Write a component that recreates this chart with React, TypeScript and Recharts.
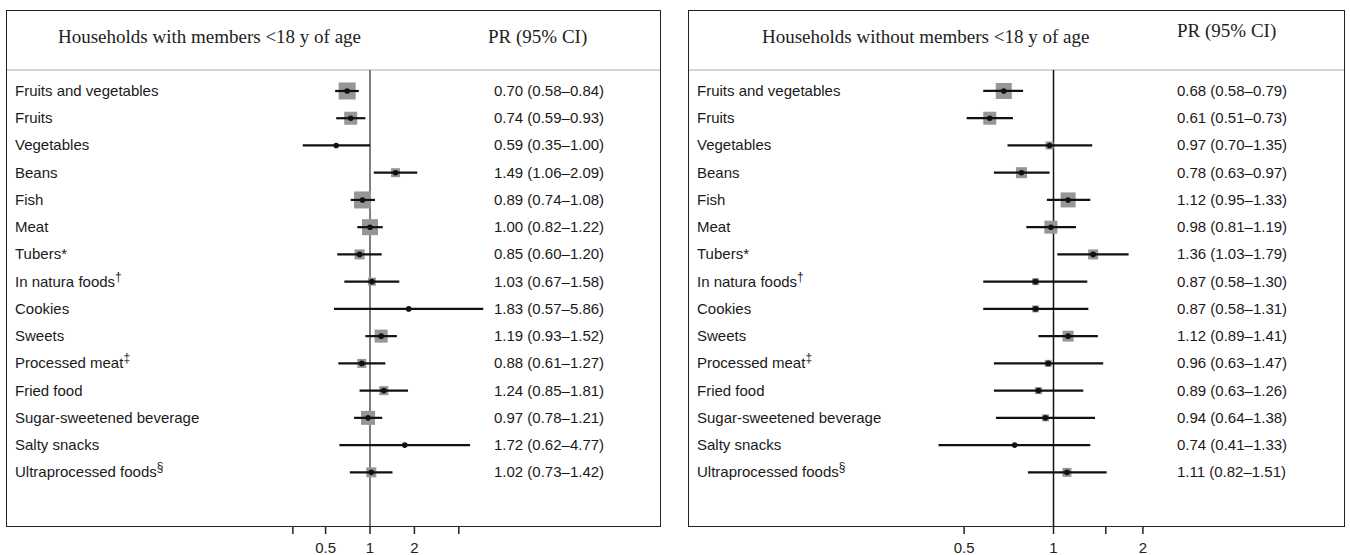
import React from "react";
import { ComposedChart, Scatter, XAxis, YAxis, ErrorBar, ReferenceLine } from "recharts";

const foods = [
  "Fruits and vegetables",
  "Fruits",
  "Vegetables",
  "Beans",
  "Fish",
  "Meat",
  "Tubers*",
  "In natura foods†",
  "Cookies",
  "Sweets",
  "Processed meat‡",
  "Fried food",
  "Sugar-sweetened beverage",
  "Salty snacks",
  "Ultraprocessed foods§",
];

// households with members <18 y
const prWith = [0.7, 0.74, 0.59, 1.49, 0.89, 1.0, 0.85, 1.03, 1.83, 1.19, 0.88, 1.24, 0.97, 1.72, 1.02];
const lowWith = [0.58, 0.59, 0.35, 1.06, 0.74, 0.82, 0.6, 0.67, 0.57, 0.93, 0.61, 0.85, 0.78, 0.62, 0.73];
const highWith = [0.84, 0.93, 1.0, 2.09, 1.08, 1.22, 1.2, 1.58, 5.86, 1.52, 1.27, 1.81, 1.21, 4.77, 1.42];
const weightWith = [17, 13, 3, 9, 17, 16, 10, 8, 3, 13, 9, 9, 14, 3, 10];

// households without members <18 y
const prWithout = [0.68, 0.61, 0.97, 0.78, 1.12, 0.98, 1.36, 0.87, 0.87, 1.12, 0.96, 0.89, 0.94, 0.74, 1.11];
const lowWithout = [0.58, 0.51, 0.7, 0.63, 0.95, 0.81, 1.03, 0.58, 0.58, 0.89, 0.63, 0.63, 0.64, 0.41, 0.82];
const highWithout = [0.79, 0.73, 1.35, 0.97, 1.33, 1.19, 1.79, 1.3, 1.31, 1.41, 1.47, 1.26, 1.38, 1.33, 1.51];
const weightWithout = [16, 13, 8, 11, 15, 13, 10, 7, 7, 11, 7, 7, 7, 3, 9];

const ticksWith = [0.3, 0.5, 1, 2, 4];
const ticksWithout = [0.5, 1, 1.5, 2];
const tickLabels = [0.5, 1, 2];

const SANS = "'Liberation Sans', Arial, sans-serif";
const SERIF = "'Liberation Serif', 'Times New Roman', serif";
const rowIdx = foods.map((_, i) => i);

const fmt = (v: number) => v.toFixed(2);

const FoodLabel = (props: any) => {
  const { y, payload, labelX } = props;
  const text: string = foods[payload.value] ?? "";
  const last = text.slice(-1);
  const sup = "†‡§".includes(last);
  return (
    <text x={labelX} y={y} dy={5} fontSize={15} fontFamily={SANS} fill="#1a1a1a" textAnchor="start">
      {sup ? (
        <>
          <tspan>{text.slice(0, -1)}</tspan>
          <tspan dy={-6} fontSize={12}>{last}</tspan>
        </>
      ) : (
        text
      )}
    </text>
  );
};

const PrLabel = (props: any) => {
  const { y, payload, prX, pr, low, high } = props;
  const i = payload.value;
  return (
    <text x={prX} y={y} dy={5} fontSize={15} fontFamily={SANS} fill="#1a1a1a" textAnchor="start">
      {`${fmt(pr[i])} (${fmt(low[i])}–${fmt(high[i])})`}
    </text>
  );
};

type PanelProps = {
  title: string;
  pr: number[];
  low: number[];
  high: number[];
  weight: number[];
  pageLeft: number;
  box: { left: number; right: number };
  domain: [number, number];
  ticks: number[];
  yLeft: number;
  yRight: number;
  labelX: number;
  prX: number;
  titleX: number;
  prTitleX: number;
  prTitleY: number;
  refColor: string;
};

const Panel = (p: PanelProps) => {
  const rows = rowIdx.map((i) => ({
    i,
    pr: p.pr[i],
    err: [p.pr[i] - p.low[i], p.high[i] - p.pr[i]],
    w: p.weight[i],
  }));
  const W = 670;
  return (
    <div style={{ position: "absolute", left: p.pageLeft, top: 0, width: W, height: 555 }}>
      <div
        style={{
          position: "absolute",
          left: p.box.left,
          top: 10,
          width: p.box.right - p.box.left + 1,
          height: 517,
          border: "1px solid #222",
          boxSizing: "border-box",
        }}
      />
      <div
        style={{
          position: "absolute",
          left: p.box.left + 1,
          top: 69,
          width: p.box.right - p.box.left - 1,
          borderTop: "2px solid #d6d6d6",
        }}
      />
      <div style={{ position: "absolute", left: p.titleX, top: 27, fontFamily: SERIF, fontSize: 19, lineHeight: "20px", color: "#222", whiteSpace: "nowrap" }}>
        {p.title}
      </div>
      <div style={{ position: "absolute", left: p.prTitleX, top: p.prTitleY - 11, fontFamily: SERIF, fontSize: 19, lineHeight: "20px", color: "#222", whiteSpace: "nowrap" }}>
        PR (95% CI)
      </div>
      <div style={{ position: "absolute", left: 0, top: 0 }}>
        <ComposedChart width={W} height={555} margin={{ top: 70, right: 0, bottom: 0, left: 0 }}>
          <XAxis
            dataKey="pr"
            type="number"
            scale="log"
            domain={p.domain}
            allowDataOverflow
            ticks={p.ticks}
            interval={0}
            height={29}
            tickSize={8}
            tickMargin={8}
            axisLine={false}
            tickLine={{ stroke: "#222", strokeWidth: 1.5 }}
            tick={{ fontSize: 15, fontFamily: SANS, fill: "#222" }}
            tickFormatter={(v: number) => (tickLabels.includes(v) ? String(v) : "")}
          />
          <YAxis
            yAxisId="left"
            dataKey="i"
            type="number"
            domain={[-0.77, 15.97]}
            reversed
            allowDataOverflow
            ticks={rowIdx}
            interval={0}
            width={p.yLeft}
            axisLine={false}
            tickLine={false}
            tick={(t: any) => <FoodLabel {...t} labelX={p.labelX} />}
          />
          <YAxis
            yAxisId="right"
            orientation="right"
            type="number"
            domain={[-0.77, 15.97]}
            reversed
            allowDataOverflow
            ticks={rowIdx}
            interval={0}
            width={p.yRight}
            axisLine={false}
            tickLine={false}
            tick={(t: any) => <PrLabel {...t} prX={p.prX} pr={p.pr} low={p.low} high={p.high} />}
          />
          <ReferenceLine yAxisId="left" x={1} stroke={p.refColor} strokeWidth={1.5} />
          <Scatter
            yAxisId="left"
            data={rows}
            isAnimationActive={false}
            zIndex={500}
            shape={(s: any) => (
              <rect x={s.cx - s.payload.w / 2} y={s.cy - s.payload.w / 2} width={s.payload.w} height={s.payload.w} fill="#969696" />
            )}
          />
          <Scatter
            yAxisId="left"
            data={rows}
            isAnimationActive={false}
            zIndex={900}
            shape={(s: any) => <circle cx={s.cx} cy={s.cy} r={2.8} fill="#111" />}
          >
            <ErrorBar dataKey="err" direction="x" width={0} stroke="#111" strokeWidth={2.2} zIndex={800} />
          </Scatter>
        </ComposedChart>
      </div>
    </div>
  );
};

export default function App() {
  return (
    <div style={{ position: "absolute", left: 0, top: 0, width: 1350, height: 555, background: "#fff", overflow: "hidden" }}>
      <Panel
        title="Households with members <18 y of age"
        pr={prWith}
        low={lowWith}
        high={highWith}
        weight={weightWith}
        pageLeft={0}
        box={{ left: 6, right: 660 }}
        domain={[0.25, 8]}
        ticks={ticksWith}
        yLeft={281.2}
        yRight={166.8}
        labelX={15}
        prX={494}
        titleX={58}
        prTitleX={488}
        prTitleY={38}
        refColor="#555"
      />
      <Panel
        title="Households without members <18 y of age"
        pr={prWithout}
        low={lowWithout}
        high={highWithout}
        weight={weightWithout}
        pageLeft={680}
        box={{ left: 8, right: 664 }}
        domain={[0.25, 4]}
        ticks={ticksWithout}
        yLeft={194.7}
        yRight={117.7}
        labelX={17}
        prX={497}
        titleX={82}
        prTitleX={497}
        prTitleY={32}
        refColor="#111"
      />
    </div>
  );
}
